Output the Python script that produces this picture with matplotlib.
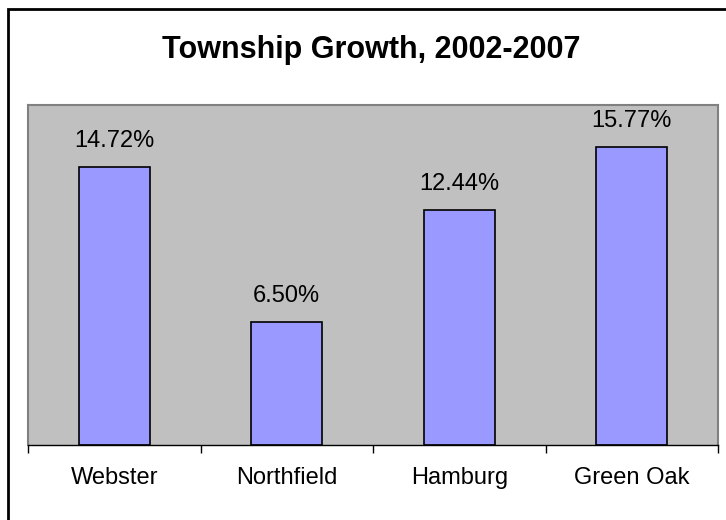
import numpy as np
import matplotlib.pyplot as plt
from matplotlib.patches import Rectangle

townships = ["Webster", "Northfield", "Hamburg", "Green Oak"]
growth = [14.72, 6.50, 12.44, 15.77]

plt.rcParams['font.family'] = ['Liberation Sans', 'DejaVu Sans']

fig = plt.figure(figsize=(7.26, 5.2), dpi=100)
fig.patch.set_facecolor('white')

# outer chart border (only left/top show in the picture)
fig.patches.append(Rectangle((8 / 726, -0.1), 1.2, (520 - 9) / 520 + 0.1,
                             transform=fig.transFigure, fill=False,
                             edgecolor='black', linewidth=2))

ax = fig.add_axes([28 / 726, (520 - 445) / 520, 690 / 726, 340 / 520])
ax.set_facecolor('#C0C0C0')

x = np.arange(len(townships))
bars = ax.bar(x, growth, width=0.41, color='#9999FF', edgecolor='black', linewidth=1.2)

for b, v in zip(bars, growth):
    ax.text(b.get_x() + b.get_width() / 2, v + 1.06, "%.2f%%" % v,
            ha='center', va='baseline', fontsize=17)

ax.set_xlim(-0.5, len(townships) - 0.5)
ax.set_ylim(0, 18)
ax.set_yticks([])
ax.set_xticks(np.arange(len(townships) + 1) - 0.5, minor=False)
ax.set_xticklabels([])
ax.set_xticks(x, minor=True)
ax.set_xticklabels(townships, minor=True, fontsize=17)
ax.tick_params(axis='x', which='major', length=6, color='black', width=1)
ax.tick_params(axis='x', which='minor', length=0, pad=15.5)

for s in ['top', 'left', 'right']:
    ax.spines[s].set_color('#808080')
    ax.spines[s].set_linewidth(1.5)
ax.spines['bottom'].set_color('black')
ax.spines['bottom'].set_linewidth(1)

fig.text(371 / 726, (520 - 58) / 520, "Township Growth, 2002-2007",
         ha='center', va='baseline', fontsize=22, fontweight='bold')

fig.savefig("out.png", dpi=100)
